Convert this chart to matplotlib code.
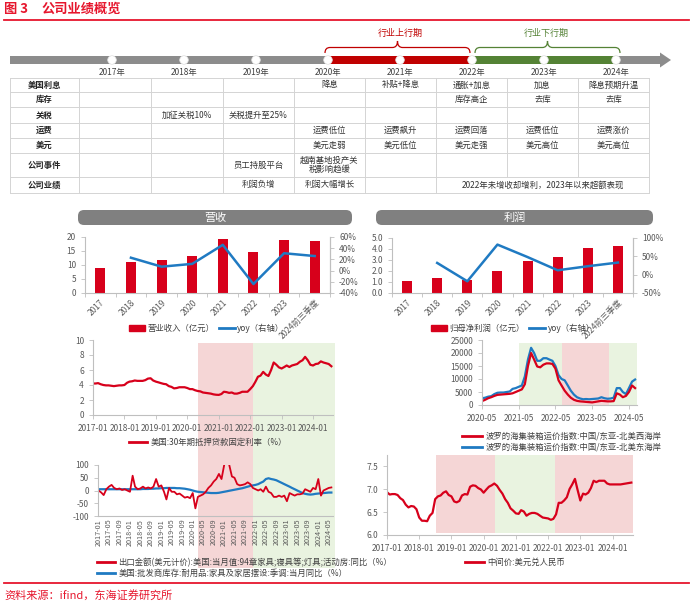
import matplotlib.pyplot as plt
import matplotlib.dates as mdates
from matplotlib.patches import FancyBboxPatch, Rectangle, Circle, Polygon, PathPatch, Patch
from matplotlib.lines import Line2D
from matplotlib.path import Path
from matplotlib.ticker import FuncFormatter
import numpy as np
import pandas as pd

plt.rcParams['font.family'] = ['Noto Sans CJK SC', 'DejaVu Sans']
plt.rcParams['axes.unicode_minus'] = False

W, H = 694, 608
RED = '#d7001b'
TITLE_RED = '#e6162d'
BLUE = '#1f7ac2'
TXT = '#595959'
SPINE = '#bfbfbf'
PINK = '#f5d6d6'
GREEN = '#e9f3e0'
TL_GRAY = '#8c8c8c'
TL_RED = '#c00000'
TL_GREEN = '#548235'

# ---------------- data ----------------
timeline_years = ['2017年', '2018年', '2019年', '2020年', '2021年', '2022年', '2023年', '2024年']
phase_labels = ['行业上行期', '行业下行期']

row_names = ['美国利息', '库存', '关税', '运费', '美元', '公司事件', '公司业绩']
rate_row = ['', '', '', '降息', '补贴+降息', '通胀+加息', '加息', '降息预期升温']
stock_row = ['', '', '', '', '', '库存高企', '去库', '去库']
tariff_row = ['', '加征关税10%', '关税提升至25%', '', '', '', '', '']
freight_row = ['', '', '', '运费低位', '运费飙升', '运费回落', '运费低位', '运费涨价']
usd_row = ['', '', '', '美元走弱', '美元低位', '美元走强', '美元高位', '美元高位']
event_row = ['', '', '员工持股平台', '越南基地投产关\n税影响趋缓', '', '', '', '']
perf_row = ['', '', '利润负增', '利润大幅增长', '']
perf_merged = '2022年未增收却增利，2023年以来超额表现'

fin_years = ['2017', '2018', '2019', '2020', '2021', '2022', '2023', '2024前三季度']
revenue = [9.0, 11.0, 11.8, 13.1, 19.3, 14.7, 19.0, 18.4]
revenue_yoy = [np.nan, 23, 7, 12, 46, -24, 31, 26]
profit = [1.05, 1.4, 1.15, 2.0, 2.95, 3.3, 4.05, 4.3]
profit_yoy = [np.nan, 32, -18, 82, 48, 12, 23, 33]

# monthly, 2017-01 .. 2024-08
mortgage = [4.2, 4.2, 4.25, 4.1, 4.0, 3.95, 3.95, 3.9, 3.85, 3.9, 3.95, 3.95,
            4.0, 4.3, 4.45, 4.5, 4.6, 4.55, 4.55, 4.55, 4.65, 4.85, 4.9, 4.6,
            4.45, 4.35, 4.25, 4.15, 4.1, 3.85, 3.75, 3.55, 3.6, 3.7, 3.7, 3.7,
            3.6, 3.45, 3.45, 3.3, 3.2, 3.15, 3.0, 2.95, 2.9, 2.85, 2.75, 2.7,
            2.68, 2.8, 3.1, 3.05, 2.95, 3.0, 2.85, 2.85, 2.95, 3.1, 3.1, 3.1,
            3.45, 3.85, 4.4, 5.1, 5.25, 5.75, 5.4, 5.2, 6.0, 7.0, 6.7, 6.35,
            6.2, 6.4, 6.6, 6.4, 6.6, 6.7, 6.8, 7.1, 7.3, 7.75, 7.3, 6.7,
            6.6, 6.8, 6.85, 7.15, 7.0, 6.9, 6.8, 6.5]

# monthly, 2020-05 .. 2024-07
scfi_west = [1500, 2000, 2600, 3000, 3500, 3900, 4000, 4100,
             4200, 4300, 4500, 5000, 5500, 6000, 8000, 15000, 20000, 17500, 14800, 14500,
             15500, 16000, 16000, 15800, 14000, 9500, 7500, 5500, 4000, 2800, 2000, 1600,
             1400, 1300, 1200, 1100, 1000, 1200, 1400, 1600, 1500, 1400, 1400, 1500,
             4500, 4000, 3000, 3500, 5000, 7500, 6500]
scfi_east = [2600, 2800, 3200, 3400, 4200, 4700, 4800, 4800,
             5000, 5200, 6200, 6500, 7000, 7500, 11000, 17500, 22000, 20000, 17000, 17000,
             18000, 18000, 17500, 17000, 15000, 11500, 10000, 9500, 7500, 5500, 4000, 3000,
             2500, 2200, 2300, 2200, 2300, 2400, 2500, 3000, 2600, 2400, 2500, 2800,
             6500, 6500, 5000, 4200, 6500, 9000, 9800]

# monthly, 2017-01 .. 2024-06
export_yoy = [0, -8, -18, 5, 15, 22, 10, 5, 8, 2, 5, 0,
              -5, 58, 15, 5, 8, 15, 8, 12, 8, 15, 45, 15,
              20, -5, -35, 10, -5, -5, -15, -12, -20, -28, -25, -30,
              -10, -70, -25, -20, -15, -5, 10, 20, 35, 45, 65, 45,
              100, 160, 100, 55, 50, 25, 20, 22, 25, 32, 25, 10,
              5, 0, 5, -5, 15, -5, -10, -25, -25, -20, -25, -20,
              -42, -10, -15, -20, -15, -15, -12, 5, 0, -5, 10, 5,
              45, -20, 0, 5, 10, 12]
inventory_yoy = [5, 5, 5, 5, 5, 5, 5, 5, 5, 5, 5, 5,
                 5, 5, 5, 5, 5, 6, 6, 6, 7, 7, 8, 8,
                 9, 9, 10, 10, 10, 10, 9, 9, 8, 7, 5, 3,
                 0, -3, -5, -6, -7, -8, -9, -10, -10, -10, -9, -7,
                 -5, -3, -1, 1, 3, 5, 7, 9, 12, 15, 18, 20,
                 22, 25, 30, 35, 45, 48, 45, 43, 40, 35, 30, 25,
                 20, 15, 10, 5, 0, -5, -10, -13, -15, -16, -15, -13,
                 -12, -11, -10, -9, -8, -8]

# monthly, 2017-01 .. 2024-08
usdcny = [6.93, 6.88, 6.89, 6.89, 6.87, 6.80, 6.76, 6.66, 6.60, 6.63, 6.62, 6.56,
          6.38, 6.31, 6.31, 6.30, 6.42, 6.48, 6.78, 6.84, 6.86, 6.92, 6.95, 6.87,
          6.84, 6.73, 6.71, 6.74, 6.86, 6.89, 6.88, 7.05, 7.08, 7.07, 7.02, 6.99,
          6.92, 6.99, 7.05, 7.08, 7.12, 7.07, 6.98, 6.90, 6.78, 6.70, 6.58, 6.53,
          6.47, 6.46, 6.54, 6.51, 6.42, 6.46, 6.48, 6.48, 6.46, 6.42, 6.38, 6.37,
          6.36, 6.33, 6.35, 6.45, 6.70, 6.70, 6.75, 6.82, 7.00, 7.10, 7.22, 6.98,
          6.75, 6.90, 6.88, 6.92, 7.02, 7.18, 7.15, 7.18, 7.18, 7.18, 7.12, 7.10,
          7.10, 7.10, 7.10, 7.10, 7.11, 7.12, 7.13, 7.14]

mort_dates = pd.date_range('2017-01-01', periods=len(mortgage), freq='MS')
scfi_dates = pd.date_range('2020-05-01', periods=len(scfi_west), freq='MS')
trade_dates = pd.date_range('2017-01-01', periods=len(export_yoy), freq='MS')
fx_dates = pd.date_range('2017-01-01', periods=len(usdcny), freq='MS')

# ---------------- figure ----------------
fig = plt.figure(figsize=(6.94, 6.08), dpi=100)
bg = fig.add_axes([0, 0, 1, 1])
bg.set_xlim(0, W)
bg.set_ylim(H, 0)
bg.axis('off')


def box(x0, y0, x1, y1):
    return [x0 / W, 1 - y1 / H, (x1 - x0) / W, (y1 - y0) / H]


# title
bg.text(4, 9, '图 3', color=TITLE_RED, fontsize=9.5, fontweight='bold', va='center')
bg.text(42, 9, '公司业绩概览', color=TITLE_RED, fontsize=9.5, fontweight='bold', va='center')
bg.plot([4, 689], [19.5, 19.5], color=TITLE_RED, lw=1.3)

# timeline
year_x = [112 + 72 * i for i in range(len(timeline_years))]
bg.add_patch(Rectangle((10, 56), 652, 8, color=TL_GRAY, lw=0))
bg.add_patch(Polygon([[660, 52.5], [671, 60], [660, 67.5]], color=TL_GRAY, lw=0))
bg.add_patch(Rectangle((year_x[3], 56), year_x[5] - year_x[3], 8, color=TL_RED, lw=0))
bg.add_patch(Rectangle((year_x[5], 56), year_x[7] - year_x[5], 8, color=TL_GREEN, lw=0))
for xx, lab in zip(year_x, timeline_years):
    bg.add_patch(Circle((xx, 60), 4.3, fc='white', ec='#e0e0e0', lw=0.5, zorder=3))
    bg.text(xx, 72.5, lab, ha='center', va='center', fontsize=6, color='#404040')


def brace(x0, x1, color):
    yb, ym, yt, r = 53, 47.5, 41, 5
    xc = (x0 + x1) / 2
    verts = [(x0, yb), (x0, ym), (x0 + r, ym), (xc - r, ym), (xc, ym), (xc, yt),
             (xc, ym), (xc + r, ym), (x1 - r, ym), (x1, ym), (x1, yb)]
    codes = [Path.MOVETO, Path.CURVE3, Path.CURVE3, Path.LINETO, Path.CURVE3, Path.CURVE3,
             Path.CURVE3, Path.CURVE3, Path.LINETO, Path.CURVE3, Path.CURVE3]
    bg.add_patch(PathPatch(Path(verts, codes), fc='none', ec=color, lw=0.9))


brace(year_x[3] - 3, year_x[5] - 2, TL_RED)
brace(year_x[5] + 3, year_x[7] + 4, TL_GREEN)
bg.text((year_x[3] + year_x[5]) / 2, 33, phase_labels[0], ha='center', va='center', fontsize=6.5, color=TL_RED)
bg.text((year_x[5] + year_x[7]) / 2 + 2, 33, phase_labels[1], ha='center', va='center', fontsize=6.5, color=TL_GREEN)

# table
col_edges = [10, 79, 151, 223, 294, 365, 436, 507, 578, 649]
row_edges = [78, 92, 107, 123, 138, 153, 177, 193]
LINE = '#d4d4d4'
for y in row_edges:
    bg.plot([col_edges[0], col_edges[-1]], [y, y], color=LINE, lw=0.7)
for i in range(len(row_names)):
    y0, y1 = row_edges[i], row_edges[i + 1]
    for j, x in enumerate(col_edges):
        if i == len(row_names) - 1 and x in (507, 578):
            continue
        bg.plot([x, x], [y0, y1], color=LINE, lw=0.7)
table_rows = [rate_row, stock_row, tariff_row, freight_row, usd_row, event_row]
for i, name in enumerate(row_names):
    yc = (row_edges[i] + row_edges[i + 1]) / 2
    bg.text((col_edges[0] + col_edges[1]) / 2, yc, name, ha='center', va='center',
            fontsize=6, fontweight='bold', color='#262626')
    cells = table_rows[i] if i < len(table_rows) else perf_row
    for j, t in enumerate(cells):
        if t:
            bg.text((col_edges[j + 1] + col_edges[j + 2]) / 2, yc, t, ha='center', va='center',
                    fontsize=6, color='#333333', linespacing=1.1)
yc = (row_edges[-2] + row_edges[-1]) / 2
bg.text((col_edges[6] + col_edges[9]) / 2, yc, perf_merged, ha='center', va='center',
        fontsize=6, color='#333333')

# section headers
for (x0, x1, lab) in [(78, 352, '营收'), (376, 653, '利润')]:
    bg.add_patch(FancyBboxPatch((x0, 210), x1 - x0, 15, boxstyle='round,pad=0,rounding_size=6',
                                fc='#808080', ec='none'))
    bg.text((x0 + x1) / 2, 217.5, lab, ha='center', va='center', fontsize=8, color='white')

# background shading for the time-series charts (figure pixels)
bg.add_patch(Rectangle((198, 343), 55, 225, color=PINK, lw=0, zorder=0))
bg.add_patch(Rectangle((253, 343), 82, 225, color=GREEN, lw=0, zorder=0))

# footer
bg.plot([4, 689], [583, 583], color=TITLE_RED, lw=1.3)
bg.text(4, 595, '资料来源：ifind，东海证券研究所', color=TITLE_RED, fontsize=8, va='center')


def style(ax, right=False):
    ax.patch.set_alpha(0)
    for s in ['top', 'right']:
        ax.spines[s].set_visible(False)
    for s in ['left', 'bottom']:
        ax.spines[s].set_color(SPINE)
        ax.spines[s].set_linewidth(0.8)
    if right:
        ax.spines['right'].set_visible(True)
        ax.spines['right'].set_color(SPINE)
    ax.tick_params(labelsize=6, colors=TXT, length=3, width=0.6)
    ax.tick_params(axis='both', which='both', color=SPINE)


def bar_chart(rect, values, yoy, ylim, yticks, yfmt, y2lim, y2ticks, leg_labels, leg_x):
    ax = fig.add_axes(box(*rect))
    style(ax, right=True)
    x = np.arange(len(fin_years))
    ax.bar(x, values, width=0.33, color=RED)
    ax.set_xlim(-0.5, len(fin_years) - 0.5)
    ax.set_ylim(*ylim)
    ax.set_yticks(yticks)
    ax.yaxis.set_major_formatter(FuncFormatter(yfmt))
    ax.set_xticks(x)
    ax.set_xticklabels(fin_years, rotation=45, ha='right', rotation_mode='anchor')
    ax.set_xticks(np.arange(-0.5, len(fin_years)), minor=True)
    ax.tick_params(axis='x', which='major', length=0)
    ax.tick_params(axis='x', which='minor', length=3, color=SPINE)
    ax2 = ax.twinx()
    style(ax2, right=True)
    ax2.spines['left'].set_visible(False)
    ax2.spines['bottom'].set_visible(False)
    ax2.plot(x, yoy, color=BLUE, lw=1.8)
    ax2.set_ylim(*y2lim)
    ax2.set_yticks(y2ticks)
    ax2.yaxis.set_major_formatter(FuncFormatter(lambda v, p: f'{v:.0f}%'))
    handles = [Patch(color=RED), Line2D([], [], color=BLUE, lw=2)]
    fig.legend(handles, leg_labels, loc='center', bbox_to_anchor=(leg_x / W, 1 - 328 / H),
               ncol=2, frameon=False, fontsize=6, handlelength=1.9, handleheight=0.8,
               columnspacing=0.5, handletextpad=0.3, labelcolor='#404040')


bar_chart((85, 237, 330, 293), revenue, revenue_yoy, (0, 20), [0, 5, 10, 15, 20],
          lambda v, p: f'{v:.0f}', (-40, 60), list(range(-40, 61, 20)),
          ['营业收入（亿元）', 'yoy（右轴）'], 207)
bar_chart((392, 238, 633, 293), profit, profit_yoy, (0, 5), [0, 1, 2, 3, 4, 5],
          lambda v, p: f'{v:.1f}', (-50, 100), [-50, 0, 50, 100],
          ['归母净利润（亿元）', 'yoy（右轴）'], 513)

# mortgage rate
ax = fig.add_axes(box(93, 340, 333, 415))
style(ax)
ax.plot(mort_dates, mortgage, color=RED, lw=1.6)
ax.set_ylim(0, 10)
ax.set_yticks([0, 2, 4, 6, 8, 10])
ax.set_xlim(pd.Timestamp('2017-01-01'), pd.Timestamp('2024-08-20'))
ax.xaxis.set_major_locator(mdates.YearLocator())
ax.xaxis.set_major_formatter(mdates.DateFormatter('%Y-%m'))
fig.legend([Line2D([], [], color=RED, lw=2)], ['美国:30年期抵押贷款固定利率（%）'], loc='center',
           bbox_to_anchor=(208 / W, 1 - 442 / H), frameon=False, fontsize=6, handlelength=2.2,
           handletextpad=0.4, labelcolor='#404040')

# freight
ax = fig.add_axes(box(482, 340, 637, 405))
style(ax)
ax.axvspan(pd.Timestamp('2021-05-01'), pd.Timestamp('2022-07-10'), ymax=0.96, color=GREEN, lw=0, zorder=0)
ax.axvspan(pd.Timestamp('2022-07-10'), pd.Timestamp('2023-10-15'), ymax=0.96, color=PINK, lw=0, zorder=0)
ax.axvspan(pd.Timestamp('2023-10-15'), pd.Timestamp('2024-07-20'), ymax=0.96, color=GREEN, lw=0, zorder=0)
ax.plot(scfi_dates, scfi_east, color=BLUE, lw=1.6)
ax.plot(scfi_dates, scfi_west, color=RED, lw=1.6)
ax.set_ylim(0, 25000)
ax.set_yticks(range(0, 25001, 5000))
ax.set_xlim(pd.Timestamp('2020-05-01'), pd.Timestamp('2024-07-20'))
ax.xaxis.set_major_locator(mdates.MonthLocator(bymonth=[5]))
ax.xaxis.set_major_formatter(mdates.DateFormatter('%Y-%m'))
fig.legend([Line2D([], [], color=RED, lw=2), Line2D([], [], color=BLUE, lw=2)],
           ['波罗的海集装箱运价指数:中国/东亚-北美西海岸', '波罗的海集装箱运价指数:中国/东亚-北美东海岸'],
           loc='upper left', bbox_to_anchor=(455 / W, 1 - 424 / H), frameon=False, fontsize=6,
           handlelength=2.4, handletextpad=0.4, labelspacing=0.25, labelcolor='#404040')

# export & inventory
ax = fig.add_axes(box(98, 465, 333, 516))
style(ax)
ax.plot(trade_dates, inventory_yoy, color=BLUE, lw=1.6)
ax.plot(trade_dates, export_yoy, color=RED, lw=1.3)
ax.set_ylim(-100, 100)
ax.set_yticks([-100, -50, 0, 50, 100])
ax.set_xlim(pd.Timestamp('2016-12-25'), pd.Timestamp('2024-06-20'))
ax.xaxis.set_major_locator(mdates.MonthLocator(bymonth=[1, 5, 9]))
ax.xaxis.set_major_formatter(mdates.DateFormatter('%Y-%m'))
ax.tick_params(axis='x', labelsize=5.2, rotation=90, length=0, pad=2)
fig.legend([Line2D([], [], color=RED, lw=2), Line2D([], [], color=BLUE, lw=2)],
           ['出口金额(美元计价):美国:当月值:94章家具;寝具等;灯具;活动房:同比（%）',
            '美国:批发商库存:耐用品:家具及家居摆设:季调:当月同比（%）'],
           loc='upper left', bbox_to_anchor=(89 / W, 1 - 550 / H), frameon=False, fontsize=6,
           handlelength=2.2, handletextpad=0.4, labelspacing=0.2, labelcolor='#404040')

# USD/CNY
ax = fig.add_axes(box(387, 455, 633, 535))
style(ax)
ax.axvspan(pd.Timestamp('2018-07-15'), pd.Timestamp('2020-05-10'), ymin=0.03, color=PINK, lw=0, zorder=0)
ax.axvspan(pd.Timestamp('2020-05-10'), pd.Timestamp('2022-03-25'), ymin=0.03, color=GREEN, lw=0, zorder=0)
ax.axvspan(pd.Timestamp('2022-03-25'), pd.Timestamp('2024-08-20'), ymin=0.03, color=PINK, lw=0, zorder=0)
ax.plot(fx_dates, usdcny, color=RED, lw=1.6)
ax.set_ylim(6.0, 7.74)
ax.set_yticks([6.0, 6.5, 7.0, 7.5])
ax.yaxis.set_major_formatter(FuncFormatter(lambda v, p: f'{v:.1f}'))
ax.set_xlim(pd.Timestamp('2017-01-01'), pd.Timestamp('2024-08-20'))
ax.xaxis.set_major_locator(mdates.YearLocator())
ax.xaxis.set_major_formatter(mdates.DateFormatter('%Y-%m'))
fig.legend([Line2D([], [], color=RED, lw=2)], ['中间价:美元兑人民币'], loc='center',
           bbox_to_anchor=(515 / W, 1 - 562 / H), frameon=False, fontsize=6, handlelength=2.2,
           handletextpad=0.4, labelcolor='#404040')

fig.savefig('out.png', dpi=100, facecolor='white')
